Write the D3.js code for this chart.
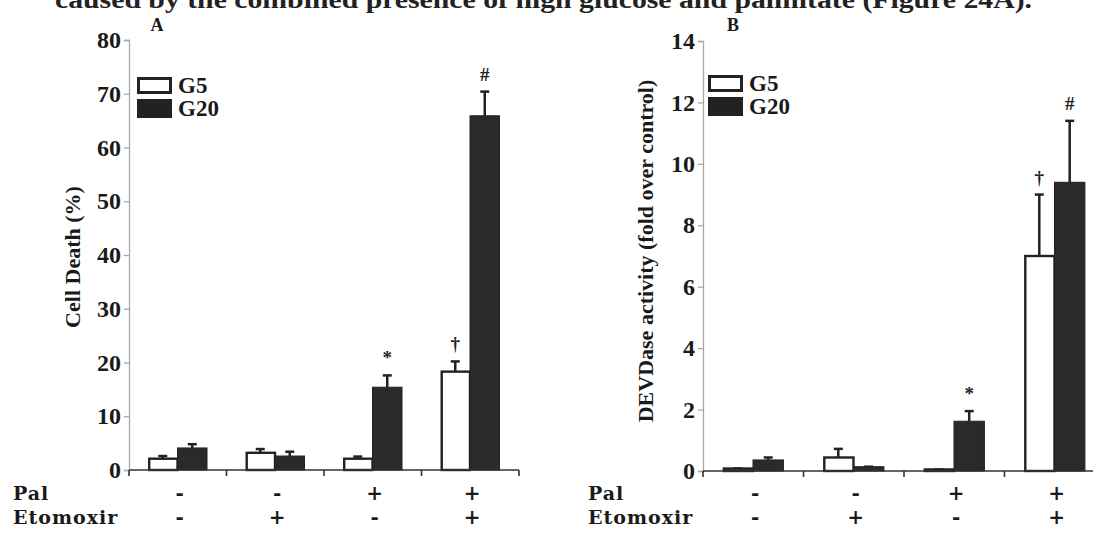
<!DOCTYPE html>
<html>
<head>
<meta charset="utf-8">
<script src="https://cdn.jsdelivr.net/npm/d3@7"></script>
<style>
  body { margin: 0; background: #fff; }
  svg { display: block; }
</style>
</head>
<body>
<div id="chart"></div>
<script>
// data
var groups = ['g1', 'g2', 'g3', 'g4'];
var palSigns = ['-', '-', '+', '+'];
var etoSigns = ['-', '+', '-', '+'];
var seriesNames = ['G5', 'G20'];

var deathG5 = [2.1, 3.2, 2.1, 18.3];
var deathG5Err = [2.6, 3.9, 2.5, 20.2];
var deathG20 = [4.1, 2.6, 15.4, 65.9];
var deathG20Err = [4.8, 3.4, 17.6, 70.4];
var deathMarks = [['', ''], ['', ''], ['', '*'], ['\u2020', '#']];
var deathTicks = [0, 10, 20, 30, 40, 50, 60, 70, 80];

var devdG5 = [0.08, 0.44, 0.05, 7.0];
var devdG5Err = [0.08, 0.72, 0.05, 9.0];
var devdG20 = [0.36, 0.14, 1.62, 9.4];
var devdG20Err = [0.44, 0.14, 1.95, 11.4];
var devdMarks = [['', ''], ['', ''], ['', '*'], ['\u2020', '#']];
var devdTicks = [0, 2, 4, 6, 8, 10, 12, 14];

var W = 1093, H = 533;
var serif = '"Liberation Serif", "Times New Roman", serif';
var slab = '"DejaVu Serif", serif';

var svg = d3.select('#chart').append('svg')
  .attr('width', W)
  .attr('height', H);

// running text from the page above the figure, cut by the crop
svg.append('text')
  .attr('x', 55)
  .attr('y', 8)
  .attr('textLength', 977)
  .attr('lengthAdjust', 'spacingAndGlyphs')
  .attr('font-family', serif)
  .attr('font-weight', 'bold')
  .attr('font-size', 26)
  .attr('fill', '#222')
  .text('caused by the combined presence of high glucose and palmitate (Figure 24A).');

function drawPanel(opt) {
  var g = svg.append('g');

  var x = d3.scaleBand().domain(groups).range([opt.x0, opt.x1]);
  var xs = d3.scaleBand().domain(seriesNames)
    .range([x.bandwidth() * 0.195, x.bandwidth() * 0.8]);
  var y = d3.scaleLinear().domain([0, opt.max]).range([opt.yBottom, opt.yTop]);

  // y axis, light grey like the scan
  var yAxis = d3.axisLeft(y).tickValues(opt.ticks).tickSize(5).tickPadding(3);
  var ya = g.append('g')
    .attr('transform', 'translate(' + opt.x0 + ',0)')
    .call(yAxis);
  ya.select('.domain').attr('stroke', '#a8a8a8').attr('stroke-width', 1.3);
  ya.selectAll('.tick line').attr('stroke', '#a8a8a8').attr('stroke-width', 1.3);
  ya.selectAll('.tick text')
    .attr('font-family', serif)
    .attr('font-weight', 'bold')
    .attr('font-size', 24)
    .attr('fill', '#1a1a1a');

  // y title
  g.append('text')
    .attr('transform', 'translate(' + opt.titleX + ',' + opt.titleY + ') rotate(-90)')
    .attr('text-anchor', 'middle')
    .attr('font-family', serif)
    .attr('font-weight', 'bold')
    .attr('font-size', 22)
    .attr('fill', '#1a1a1a')
    .text(opt.title);

  // panel letter
  g.append('text')
    .attr('x', opt.letterX)
    .attr('y', 31)
    .attr('text-anchor', 'middle')
    .attr('font-family', serif)
    .attr('font-weight', 'bold')
    .attr('font-size', 18)
    .attr('fill', '#1a1a1a')
    .text(opt.letter);

  var rows = groups.map(function(k, i) {
    return [
      { key: k, s: 'G5', v: opt.g5[i], e: opt.g5Err[i], m: opt.marks[i][0] },
      { key: k, s: 'G20', v: opt.g20[i], e: opt.g20Err[i], m: opt.marks[i][1] }
    ];
  });
  var bars = d3.merge(rows);

  // error bars (upper only) drawn first so bars sit on top
  var eb = g.append('g').selectAll('g').data(bars).enter().append('g');
  eb.append('line')
    .attr('x1', function(d) { return x(d.key) + xs(d.s) + xs.bandwidth() / 2; })
    .attr('x2', function(d) { return x(d.key) + xs(d.s) + xs.bandwidth() / 2; })
    .attr('y1', function(d) { return y(d.v); })
    .attr('y2', function(d) { return y(d.e); })
    .attr('stroke', '#222')
    .attr('stroke-width', 2.5);
  eb.append('line')
    .attr('x1', function(d) { return x(d.key) + xs(d.s) + xs.bandwidth() / 2 - 4.5; })
    .attr('x2', function(d) { return x(d.key) + xs(d.s) + xs.bandwidth() / 2 + 4.5; })
    .attr('y1', function(d) { return y(d.e); })
    .attr('y2', function(d) { return y(d.e); })
    .attr('stroke', '#222')
    .attr('stroke-width', 2.5);

  g.append('g').selectAll('rect').data(bars).enter().append('rect')
    .attr('x', function(d) { return x(d.key) + xs(d.s) + (d.s === 'G5' ? 1.2 : 0); })
    .attr('y', function(d) { return y(d.v); })
    .attr('width', function(d) { return xs.bandwidth() - (d.s === 'G5' ? 1.2 : 0); })
    .attr('height', function(d) { return y(0) - y(d.v); })
    .attr('fill', function(d) { return d.s === 'G5' ? '#fff' : '#2a2a2a'; })
    .attr('stroke', '#222')
    .attr('stroke-width', function(d) { return d.s === 'G5' ? 2.4 : 1; });

  // significance marks
  g.append('g').selectAll('text').data(bars.filter(function(d) { return d.m; }))
    .enter().append('text')
    .attr('x', function(d) { return x(d.key) + xs(d.s) + xs.bandwidth() / 2; })
    .attr('y', function(d) { return y(d.e) - 11; })
    .attr('text-anchor', 'middle')
    .attr('font-family', serif)
    .attr('font-weight', 'bold')
    .attr('font-size', 19)
    .attr('fill', '#222')
    .text(function(d) { return d.m; });

  // x axis: dark baseline with ticks at group borders
  var edges = groups.map(function(k) { return x(k); }).concat([opt.x1]);
  g.append('line')
    .attr('x1', opt.x0).attr('x2', opt.x1)
    .attr('y1', y(0)).attr('y2', y(0))
    .attr('stroke', '#333')
    .attr('stroke-width', 1.6);
  g.append('g').selectAll('line').data(edges).enter().append('line')
    .attr('x1', function(d) { return d; })
    .attr('x2', function(d) { return d; })
    .attr('y1', y(0))
    .attr('y2', y(0) + 6)
    .attr('stroke', '#333')
    .attr('stroke-width', 1.6);

  // treatment rows
  var rowDefs = [
    { name: 'Pal', signs: palSigns, y: 500 },
    { name: 'Etomoxir', signs: etoSigns, y: 524 }
  ];
  rowDefs.forEach(function(r) {
    g.append('text')
      .attr('x', opt.rowLabelX)
      .attr('y', r.y)
      .attr('font-family', slab)
      .attr('font-weight', 'bold')
      .attr('font-size', 19)
      .attr('letter-spacing', 1)
      .attr('fill', '#1a1a1a')
      .text(r.name);
    g.append('g').selectAll('text').data(r.signs).enter().append('text')
      .attr('x', function(d, i) { return x(groups[i]) + x.bandwidth() / 2 + 2; })
      .attr('y', r.y)
      .attr('text-anchor', 'middle')
      .attr('font-family', slab)
      .attr('font-weight', 'bold')
      .attr('font-size', 20)
      .attr('fill', '#1a1a1a')
      .text(function(d) { return d; });
  });

  // legend
  var lg = g.append('g').attr('transform', 'translate(' + opt.legendX + ',' + opt.legendY + ')');
  lg.append('rect')
    .attr('x', 1.5).attr('y', 1.5).attr('width', 32).attr('height', 14)
    .attr('fill', '#fff').attr('stroke', '#222').attr('stroke-width', 3);
  lg.append('rect')
    .attr('x', 0).attr('y', 22).attr('width', 35).attr('height', 19)
    .attr('fill', '#222');
  lg.selectAll('text').data(seriesNames).enter().append('text')
    .attr('x', 41)
    .attr('y', function(d, i) { return i === 0 ? 16 : 39; })
    .attr('font-family', serif)
    .attr('font-weight', 'bold')
    .attr('font-size', 23)
    .attr('fill', '#1a1a1a')
    .text(function(d) { return d; });
}

drawPanel({
  letter: 'A', letterX: 157,
  title: 'Cell Death (%)', titleX: 80, titleY: 257,
  x0: 129, x1: 519, yTop: 40, yBottom: 470, max: 80,
  ticks: deathTicks,
  g5: deathG5, g5Err: deathG5Err, g20: deathG20, g20Err: deathG20Err, marks: deathMarks,
  rowLabelX: 13, legendX: 137, legendY: 77
});

drawPanel({
  letter: 'B', letterX: 733,
  title: 'DEVDase activity (fold over control)', titleX: 653, titleY: 251,
  x0: 703, x1: 1105, yTop: 41, yBottom: 471, max: 14,
  ticks: devdTicks,
  g5: devdG5, g5Err: devdG5Err, g20: devdG20, g20Err: devdG20Err, marks: devdMarks,
  rowLabelX: 588, legendX: 708, legendY: 75
});
</script>
</body>
</html>
